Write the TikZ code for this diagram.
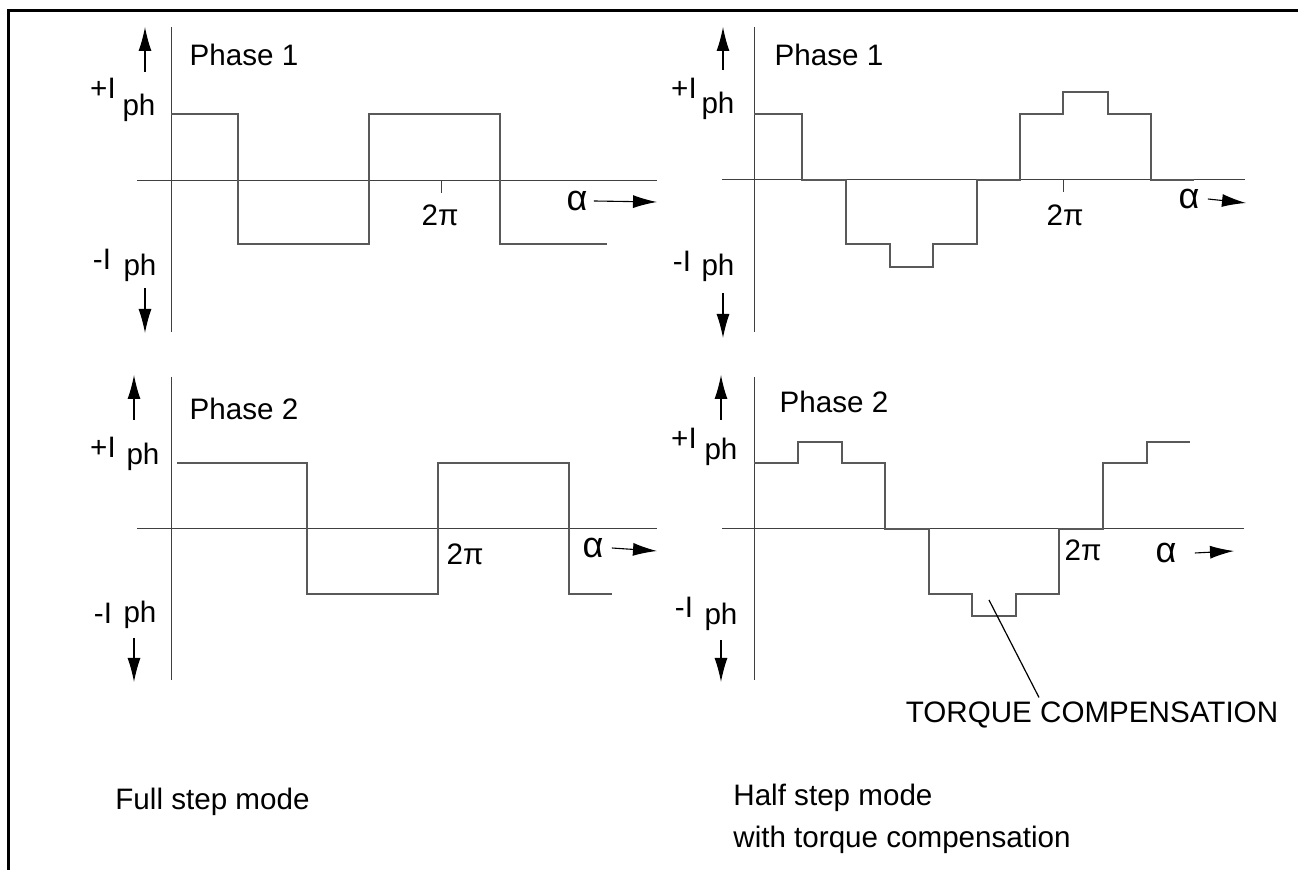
\documentclass[tikz,border=0pt]{standalone}
\usepackage{fontspec}
\setmainfont{Liberation Sans}
\usetikzlibrary{arrows.meta,positioning}

\begin{document}
\begin{tikzpicture}[x=0.5pt,y=-0.5pt,
	font=\fontsize{14.8}{17}\selectfont,
	axis/.style={black!75,line width=0.5pt},
	wave/.style={black!65,line width=0.6pt},
	pointer/.style={-{Latex[length=12pt,width=6.5pt]},line width=0.55pt},
	lbl/.style={inner sep=0pt},
	greek/.style={inner sep=0pt,font=\fontsize{18}{18}\selectfont}]
	\useasboundingbox (0,0) rectangle (1298,870);
	\draw[line width=1.5pt] (1298,11) -- (8,11) -- (8,870);

	% full step, phase 1
	\draw[axis] (171,27) -- (171,332);
	\draw[axis] (137,181) -- (657,181);
	\draw[axis] (441,181) -- (441,193);
	\draw[wave] (171,114) -- (238,114) -- (238,244) -- (369,244) -- (369,114) -- (500,114) -- (500,244) -- (607,244);
	\node[lbl] (fsname1) at (244,55) {Phase 1};
	\node[lbl] (fsplus1) at (103,88) {+I};
	\node[lbl] (fsph1) at (139,108) {ph};
	\node[lbl] (fsminus1) at (102,259) {-I};
	\node[lbl] (fsmph1) at (140,268) {ph};
	\node[lbl] (fspi1) at (440,215) {2π};
	\node[greek] (fsalpha1) at (577,201) {α};
	\draw[pointer] (145,72) -- (145,27);
	\draw[pointer] (145,288) -- (145,333);
	\draw[pointer] ([xshift=3pt]fsalpha1.east) -- (657,202);

	% half step, phase 1
	\draw[axis] (754,27) -- (754,332);
	\draw[axis] (722,180) -- (1245,180);
	\draw[axis] (1063,180) -- (1063,192);
	\draw[wave] (754,114) -- (802,114) -- (802,180) -- (846,180) -- (846,244) -- (890,244) -- (890,267) -- (933,267) -- (933,244) -- (977,244) -- (977,180) -- (1020,180) -- (1020,114) -- (1063,114) -- (1063,92) -- (1108,92) -- (1108,114) -- (1151,114) -- (1151,180) -- (1194,180);
	\node[lbl] (hsname1) at (829,55) {Phase 1};
	\node[lbl] (hsplus1) at (684,88) {+I};
	\node[lbl] (hsph1) at (718,106) {ph};
	\node[lbl] (hsminus1) at (682,261) {-I};
	\node[lbl] (hsmph1) at (718,268) {ph};
	\node[lbl] (hspi1) at (1065,215) {2π};
	\node[greek] (hsalpha1) at (1189,199) {α};
	\draw[pointer] (723,70) -- (723,27);
	\draw[pointer] (723,293) -- (723,338);
	\draw[pointer] ([xshift=4pt]hsalpha1.east) -- (1246,203);

	% full step, phase 2
	\draw[axis] (171,377) -- (171,680);
	\draw[axis] (137,529) -- (657,529);
	\draw[wave] (177,463) -- (307,463) -- (307,594) -- (438,594) -- (438,463) -- (569,463) -- (569,594) -- (612,594);
	\node[lbl] (fsname2) at (244,409) {Phase 2};
	\node[lbl] (fsplus2) at (103,447) {+I};
	\node[lbl] (fsph2) at (143,457) {ph};
	\node[lbl] (fsminus2) at (103,613) {-I};
	\node[lbl] (fsmph2) at (140,615) {ph};
	\node[lbl] (fspi2) at (465,554) {2π};
	\node[greek] (fsalpha2) at (593,548) {α};
	\draw[pointer] (134,420) -- (134,375);
	\draw[pointer] (134,638) -- (134,682);
	\draw[pointer] ([xshift=4pt]fsalpha2.east) -- (657,551);

	% half step, phase 2
	\draw[axis] (754,377) -- (754,680);
	\draw[axis] (722,529) -- (1244,529);
	\draw[wave] (754,463) -- (798,463) -- (798,442) -- (842,442) -- (842,463) -- (885,463) -- (885,529) -- (929,529) -- (929,594) -- (972,594) -- (972,616) -- (1016,616) -- (1016,594) -- (1059,594) -- (1059,529) -- (1103,529) -- (1103,463) -- (1147,463) -- (1147,442) -- (1190,442);
	\node[lbl] (hsname2) at (834,402) {Phase 2};
	\node[lbl] (hsplus2) at (684,438) {+I};
	\node[lbl] (hsph2) at (721,452) {ph};
	\node[lbl] (hsminus2) at (684,607) {-I};
	\node[lbl] (hsmph2) at (721,617) {ph};
	\node[lbl] (hspi2) at (1083,550) {2π};
	\node[greek] (hsalpha2) at (1166,553) {α};
	\draw[pointer] (721,420) -- (721,375);
	\draw[pointer] (721,640) -- (721,682);
	\draw[pointer] ([xshift=9pt]hsalpha2.east) -- (1234,551);

	% torque compensation note
	\coordinate (dip) at (989,600);
	\node[lbl] (torque) at (1092,715) {TORQUE COMPENSATION};
	\draw[line width=0.6pt] (dip) -- ([xshift=-26.5pt,yshift=2pt]torque.north);

	% captions
	\node[lbl,anchor=west] (fullcap) at (115,802) {Full step mode};
	\node[lbl,anchor=west] (halfcap) at (733,798) {Half step mode};
	\node[lbl,anchor=west] (halfcap2) at (733,840) {with torque compensation};
\end{tikzpicture}
\end{document}
